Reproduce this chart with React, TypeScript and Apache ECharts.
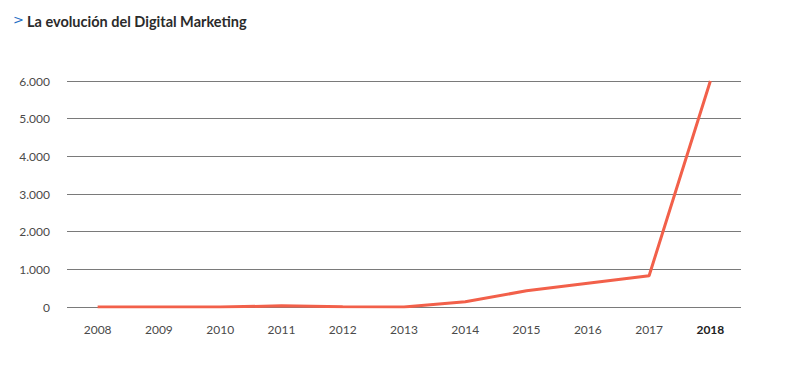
import React, { useEffect, useRef } from "react";
import * as echarts from "echarts";

const title = "La evolución del Digital Marketing";
const years = ["2008", "2009", "2010", "2011", "2012", "2013", "2014", "2015", "2016", "2017", "2018"];
const values = [0, 0, 0, 30, 8, 0, 140, 430, 630, 830, 6000];
const yTicks = [0, 1000, 2000, 3000, 4000, 5000, 6000];

const fmt = (v: number) => String(v).replace(/\B(?=(\d{3})+(?!\d))/g, ".");

export default function App() {
  const ref = useRef<HTMLDivElement>(null);
  useEffect(() => {
    if (!ref.current) return;
    const chart = echarts.init(ref.current, null, { renderer: "svg" });
    chart.setOption({
      animation: false,
      backgroundColor: "#ffffff",
      textStyle: { fontFamily: "Lato" },
      graphic: [
        {
          type: "text",
          left: 13,
          top: 13,
          style: { text: ">", fill: "#1f6fc5", font: "normal 13px 'DejaVu Sans'" },
        },
        {
          type: "text",
          left: 27,
          top: 14,
          style: { text: title, fill: "#2b2b2b", font: "bold 14.5px Lato" },
        },
      ],
      grid: { left: 67, right: 47, top: 81, bottom: 61 },
      xAxis: {
        type: "category",
        data: years,
        boundaryGap: true,
        axisLine: { show: false },
        axisTick: { show: false },
        axisLabel: {
          margin: 16,
          color: "#4a4a4a",
          fontSize: 12,
          fontFamily: "Lato",
          formatter: (v: string) => (v === "2018" ? "{b|" + v + "}" : v),
          rich: { b: { fontWeight: "bold", color: "#222", fontSize: 12, fontFamily: "Lato" } },
        },
      },
      yAxis: {
        type: "value",
        min: 0,
        max: yTicks[yTicks.length - 1],
        interval: 1000,
        axisLine: { show: false },
        axisTick: { show: false },
        axisLabel: {
          margin: 17,
          color: "#4a4a4a",
          fontSize: 12,
          fontFamily: "Lato",
          formatter: (v: number) => fmt(v),
        },
        splitLine: { lineStyle: { color: "#7a7a7a", width: 1 } },
      },
      series: [
        {
          type: "line",
          data: values,
          symbol: "none",
          lineStyle: { color: "#f2604a", width: 3 },
        },
      ],
    });
    return () => chart.dispose();
  }, []);
  return <div ref={ref} style={{ width: 788, height: 368, position: "absolute", left: 0, top: 0 }} />;
}
